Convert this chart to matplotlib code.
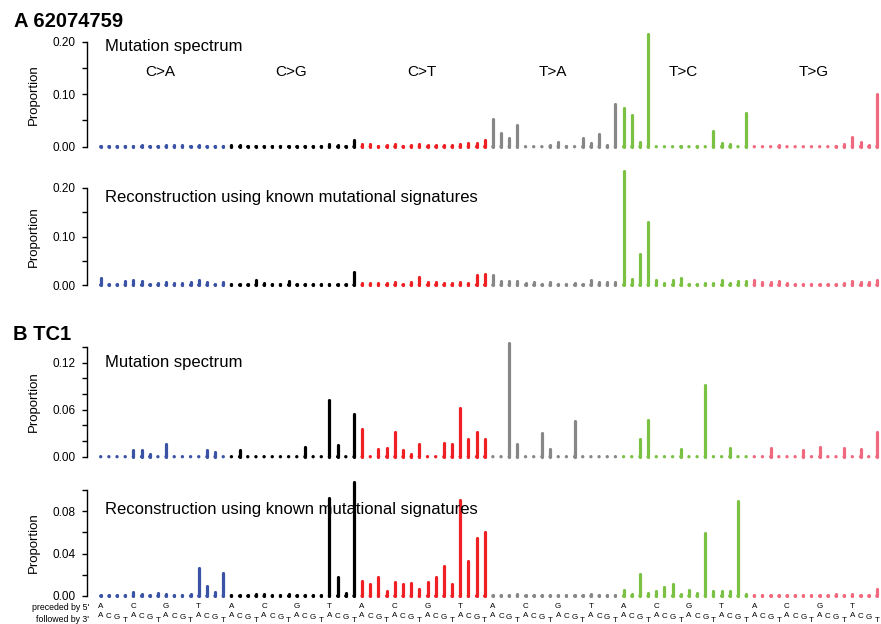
import matplotlib
matplotlib.use("Agg")
import matplotlib.pyplot as plt
import numpy as np

plt.rcParams['font.family'] = ['Liberation Sans', 'DejaVu Sans']

# ---------------- data ----------------
mutation_types = ["C>A", "C>G", "C>T", "T>A", "T>C", "T>G"]
type_colors = ["#3A53A4", "#000000", "#EE2024", "#878787", "#7BC143", "#F0697F"]
bases = ["A", "C", "G", "T"]

# Panel A (62074759) – observed spectrum, 16 contexts per mutation type
a_spectrum = [
    0.001, 0.001, 0.001, 0.001, 0.002, 0.003, 0.002, 0.002, 0.004, 0.004, 0.003, 0.002, 0.004, 0.002, 0.001, 0.001,
    0.004, 0.003, 0.002, 0.002, 0.001, 0.001, 0.001, 0.001, 0.001, 0.001, 0.001, 0.001, 0.005, 0.004, 0.002, 0.013,
    0.006, 0.005, 0.002, 0.003, 0.006, 0.002, 0.003, 0.005, 0.004, 0.004, 0.003, 0.003, 0.006, 0.007, 0.007, 0.012,
    0.052, 0.027, 0.017, 0.042, 0.0, 0.0, 0.0, 0.004, 0.009, 0.001, 0.0, 0.017, 0.007, 0.025, 0.004, 0.082,
    0.074, 0.060, 0.008, 0.214, 0.0, 0.0, 0.0, 0.002, 0.0, 0.001, 0.0, 0.030, 0.007, 0.005, 0.0, 0.064,
    0.0, 0.0, 0.0, 0.003, 0.0, 0.0, 0.0, 0.0, 0.0, 0.0, 0.002, 0.006, 0.019, 0.008, 0.004, 0.100,
]
# Panel A – reconstruction
a_reconstruction = [
    0.015, 0.003, 0.002, 0.009, 0.010, 0.009, 0.003, 0.004, 0.006, 0.004, 0.004, 0.006, 0.010, 0.006, 0.003, 0.007,
    0.002, 0.002, 0.002, 0.010, 0.004, 0.003, 0.002, 0.008, 0.002, 0.002, 0.002, 0.002, 0.003, 0.003, 0.002, 0.027,
    0.004, 0.004, 0.004, 0.005, 0.006, 0.003, 0.006, 0.017, 0.006, 0.006, 0.004, 0.004, 0.006, 0.004, 0.020, 0.022,
    0.020, 0.008, 0.008, 0.008, 0.004, 0.006, 0.002, 0.006, 0.002, 0.002, 0.005, 0.002, 0.011, 0.007, 0.007, 0.007,
    0.235, 0.012, 0.064, 0.129, 0.011, 0.004, 0.011, 0.014, 0.003, 0.003, 0.005, 0.004, 0.011, 0.005, 0.008, 0.008,
    0.010, 0.006, 0.006, 0.008, 0.005, 0.003, 0.003, 0.003, 0.002, 0.002, 0.002, 0.004, 0.009, 0.007, 0.007, 0.010,
]
# Panel B (TC1) – observed spectrum
b_spectrum = [
    0.0, 0.0, 0.0, 0.0, 0.008, 0.008, 0.004, 0.0, 0.016, 0.0, 0.0, 0.0, 0.0, 0.008, 0.006, 0.0,
    0.0, 0.008, 0.0, 0.0, 0.0, 0.0, 0.0, 0.0, 0.0, 0.013, 0.0, 0.0, 0.073, 0.015, 0.0, 0.054,
    0.035, 0.0, 0.010, 0.011, 0.032, 0.008, 0.004, 0.016, 0.0, 0.0, 0.018, 0.016, 0.0625, 0.023, 0.032, 0.022,
    0.0, 0.0, 0.145, 0.016, 0.0, 0.0, 0.030, 0.010, 0.0, 0.0, 0.046, 0.0, 0.0, 0.0, 0.0, 0.0,
    0.0, 0.0, 0.023, 0.047, 0.0, 0.0, 0.0, 0.010, 0.0, 0.0, 0.092, 0.0, 0.0, 0.011, 0.0, 0.0,
    0.0, 0.0, 0.011, 0.0, 0.0, 0.0, 0.008, 0.0, 0.012, 0.0, 0.0, 0.011, 0.0, 0.010, 0.0, 0.031,
]
# Panel B – reconstruction
b_reconstruction = [
    0.001, 0.001, 0.001, 0.001, 0.004, 0.002, 0.001, 0.003, 0.002, 0.001, 0.001, 0.002, 0.0265, 0.0095, 0.004, 0.022,
    0.001, 0.001, 0.001, 0.002, 0.002, 0.001, 0.001, 0.002, 0.001, 0.001, 0.001, 0.001, 0.092, 0.0175, 0.003, 0.107,
    0.014, 0.011, 0.018, 0.005, 0.013, 0.011, 0.012, 0.007, 0.013, 0.018, 0.028, 0.011, 0.090, 0.033, 0.055, 0.060,
    0.001, 0.001, 0.001, 0.002, 0.001, 0.001, 0.001, 0.001, 0.001, 0.001, 0.001, 0.001, 0.002, 0.001, 0.001, 0.001,
    0.006, 0.002, 0.021, 0.003, 0.005, 0.0085, 0.0115, 0.002, 0.006, 0.003, 0.059, 0.005, 0.005, 0.005, 0.089, 0.002,
    0.001, 0.001, 0.001, 0.001, 0.001, 0.001, 0.001, 0.001, 0.001, 0.001, 0.002, 0.001, 0.002, 0.001, 0.001, 0.007,
]

# tick settings per panel: (minor step, labelled ticks, spine top)
a_spec_ticks = (0.05, [0.00, 0.10, 0.20], 0.20)
a_rec_ticks = (0.05, [0.00, 0.10, 0.20], 0.20)
b_spec_ticks = (0.02, [0.00, 0.06, 0.12], 0.14)
b_rec_ticks = (0.02, [0.00, 0.04, 0.08], 0.10)

# ---------------- layout (pixels) ----------------
W, H = 881, 624
fig = plt.figure(figsize=(W / 100, H / 100), dpi=100)

def fx(px):
    return px / W

def fy(py):
    return 1 - py / H

SPINE_X = 87.0
BAR0_X = 100.7
BAR_STEP = 8.17
n_bars = 96

panels = [
    (a_spectrum, a_spec_ticks, 146.7, 525.0, 22, "Mutation spectrum", 51.5, True),
    (a_reconstruction, a_rec_ticks, 285.0, 485.0, 160, "Reconstruction using known mutational signatures", 201.5, False),
    (b_spectrum, b_spec_ticks, 456.7, 783.0, 335, "Mutation spectrum", 366.5, False),
    (b_reconstruction, b_rec_ticks, 596.0, 1062.0, 470, "Reconstruction using known mutational signatures", 514.0, False),
]

x = np.arange(n_bars)
bar_colors = [type_colors[i // 16] for i in range(n_bars)]
x_left = -(BAR0_X - SPINE_X) / BAR_STEP
x_right = x_left + (W - SPINE_X) / BAR_STEP

for vals, ticks, zero_px, ppu, top_px, subtitle, sub_base, show_types in panels:
    bottom_px = zero_px + 5
    ax = fig.add_axes([fx(SPINE_X), fy(bottom_px), fx(W - SPINE_X), (bottom_px - top_px) / H])
    ax.set_xlim(x_left, x_right)
    ax.set_ylim((zero_px - bottom_px) / ppu, (zero_px - top_px) / ppu)
    ax.patch.set_alpha(0)

    lc = ax.vlines(x, 0, vals, colors=bar_colors, linewidth=2.3, clip_on=False, zorder=3)
    lc.set_capstyle('round')
    ax.scatter(x, np.zeros(n_bars), s=2.4 ** 2, c=bar_colors, linewidths=0, clip_on=False, zorder=3)

    for side in ("top", "right", "bottom"):
        ax.spines[side].set_visible(False)
    step, labelled, spine_top = ticks
    ax.spines["left"].set_bounds(0, spine_top)
    ax.spines["left"].set_linewidth(1.0)
    all_ticks = np.round(np.arange(0, spine_top + step / 2, step), 4)
    ax.set_yticks(all_ticks)
    ax.set_yticklabels([f"{t:.2f}" if any(abs(t - l) < 1e-9 for l in labelled) else "" for t in all_ticks])
    ax.tick_params(axis="y", length=3.4, width=1.0, pad=4.6, labelsize=8.5, direction="out")
    ax.set_xticks([])

    fig.text(fx(34), fy(zero_px - spine_top * ppu / 2), "Proportion", rotation=90,
             ha="center", va="center", fontsize=9.5)
    fig.text(fx(105), fy(sub_base), subtitle, ha="left", va="baseline", fontsize=12)

    if show_types:
        for k, name in enumerate(mutation_types):
            ax.text(16 * k + 7.3, (zero_px - 76.5) / ppu, name, ha="center", va="baseline", fontsize=11)

# panel titles
fig.text(fx(14), fy(26.7), "A 62074759", ha="left", va="baseline", fontsize=14.5, fontweight="bold")
fig.text(fx(13), fy(340), "B TC1", ha="left", va="baseline", fontsize=14.5, fontweight="bold")

# context labels at bottom
fig.text(fx(89), fy(607), "preceded by 5'", ha="right", va="center", fontsize=6.3)
fig.text(fx(89), fy(620), "followed by 3'", ha="right", va="center", fontsize=6.3)
three_prime_y = [615.5, 616.8, 617.6, 620.5]
for i in range(n_bars):
    px = BAR0_X + i * BAR_STEP
    if i % 4 == 0:
        fig.text(fx(px), fy(606.5), bases[(i // 4) % 4], ha="center", va="center", fontsize=5.8)
    fig.text(fx(px), fy(three_prime_y[i % 4]), bases[i % 4], ha="center", va="center", fontsize=5.8)

fig.savefig("out.png", dpi=100)
